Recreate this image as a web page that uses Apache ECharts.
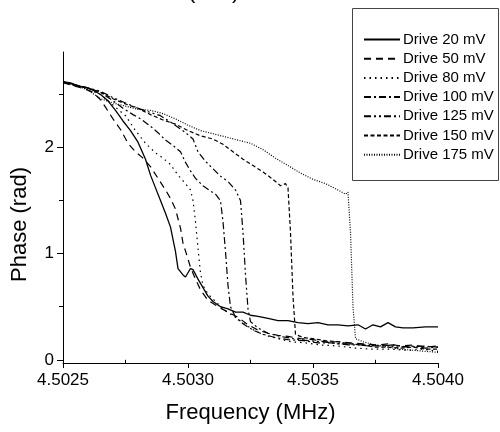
<!DOCTYPE html>
<html><head><meta charset="utf-8">
<script src="https://cdn.jsdelivr.net/npm/echarts@6/dist/echarts.min.js"></script>
<style>html,body{margin:0;padding:0;background:#fff}#c{width:500px;height:432px}</style>
</head><body><div id="c"></div>
<script>
const seriesNames = ['Drive 20 mV','Drive 50 mV','Drive 80 mV','Drive 100 mV','Drive 125 mV','Drive 150 mV','Drive 175 mV'];
const xMajorTicks = [4.5025, 4.5030, 4.5035, 4.5040];
const xMinorTicks = [4.50275, 4.50325, 4.50375];
const yMajorTicks = [0, 1, 2];
const yMinorTicks = [0.5, 1.5, 2.5];

const drive20 = [[4.50250,2.62],[4.50253,2.61],[4.50256,2.58],[4.50259,2.57],[4.50262,2.54],[4.50265,2.50],[4.50268,2.44],[4.50271,2.35],[4.50274,2.25],[4.50277,2.16],[4.50280,2.05],[4.50283,1.89],[4.50285,1.74],[4.50287,1.62],[4.50289,1.50],[4.50291,1.38],[4.50293,1.25],[4.50295,1.02],[4.50296,0.86],[4.50298,0.80],[4.50299,0.78],[4.50301,0.86],[4.50302,0.85],[4.50304,0.76],[4.50306,0.68],[4.50308,0.60],[4.50310,0.55],[4.50313,0.50],[4.50316,0.48],[4.50319,0.45],[4.50322,0.45],[4.50325,0.42],[4.50328,0.41],[4.50332,0.39],[4.50336,0.37],[4.50340,0.37],[4.50344,0.35],[4.50348,0.34],[4.50352,0.35],[4.50356,0.33],[4.50360,0.33],[4.50364,0.32],[4.50368,0.33],[4.50371,0.29],[4.50374,0.33],[4.50377,0.31],[4.50380,0.35],[4.50383,0.31],[4.50386,0.30],[4.50390,0.30],[4.50395,0.31],[4.50400,0.31]];
const drive50 = [[4.50250,2.61],[4.50253,2.59],[4.50256,2.57],[4.50259,2.55],[4.50262,2.52],[4.50265,2.45],[4.50267,2.38],[4.50270,2.27],[4.50273,2.17],[4.50276,2.04],[4.50279,1.96],[4.50282,1.90],[4.50285,1.82],[4.50288,1.71],[4.50291,1.60],[4.50293,1.52],[4.50295,1.42],[4.50297,1.24],[4.50298,1.10],[4.50300,0.95],[4.50301,0.87],[4.50303,0.76],[4.50305,0.66],[4.50308,0.56],[4.50312,0.50],[4.50316,0.45],[4.50320,0.40],[4.50324,0.33],[4.50328,0.28],[4.50332,0.25],[4.50336,0.23],[4.50340,0.22],[4.50345,0.20],[4.50350,0.19],[4.50355,0.17],[4.50360,0.17],[4.50365,0.16],[4.50370,0.15],[4.50375,0.14],[4.50380,0.15],[4.50385,0.13],[4.50390,0.14],[4.50395,0.12],[4.50400,0.13]];
const drive80 = [[4.50250,2.62],[4.50255,2.58],[4.50260,2.55],[4.50265,2.50],[4.50270,2.40],[4.50275,2.30],[4.50279,2.16],[4.50283,2.04],[4.50287,1.95],[4.50290,1.90],[4.50293,1.84],[4.50296,1.74],[4.50299,1.66],[4.50301,1.60],[4.50302,1.50],[4.50303,1.30],[4.50304,1.05],[4.50305,0.82],[4.50306,0.70],[4.50308,0.62],[4.50311,0.55],[4.50315,0.46],[4.50319,0.40],[4.50323,0.33],[4.50327,0.27],[4.50331,0.23],[4.50336,0.20],[4.50341,0.17],[4.50347,0.16],[4.50353,0.14],[4.50360,0.13],[4.50367,0.11],[4.50374,0.10],[4.50381,0.10],[4.50388,0.09],[4.50394,0.10],[4.50400,0.08]];
const drive100 = [[4.50250,2.62],[4.50255,2.58],[4.50260,2.56],[4.50265,2.52],[4.50270,2.44],[4.50274,2.37],[4.50278,2.31],[4.50281,2.27],[4.50285,2.20],[4.50288,2.14],[4.50291,2.07],[4.50294,2.02],[4.50297,1.96],[4.50299,1.86],[4.50301,1.78],[4.50303,1.71],[4.50306,1.64],[4.50309,1.59],[4.50311,1.56],[4.50313,1.50],[4.50314,1.30],[4.50315,1.02],[4.50316,0.70],[4.50317,0.50],[4.50319,0.40],[4.50322,0.34],[4.50326,0.28],[4.50330,0.24],[4.50335,0.21],[4.50340,0.19],[4.50346,0.18],[4.50352,0.16],[4.50358,0.16],[4.50364,0.14],[4.50370,0.14],[4.50376,0.13],[4.50382,0.14],[4.50388,0.12],[4.50394,0.13],[4.50400,0.12]];
const drive125 = [[4.50250,2.61],[4.50255,2.59],[4.50260,2.56],[4.50265,2.53],[4.50270,2.47],[4.50275,2.42],[4.50280,2.37],[4.50285,2.33],[4.50289,2.30],[4.50293,2.24],[4.50296,2.19],[4.50299,2.14],[4.50302,2.08],[4.50304,1.96],[4.50307,1.87],[4.50310,1.80],[4.50313,1.73],[4.50316,1.68],[4.50319,1.60],[4.50321,1.50],[4.50322,1.20],[4.50323,0.80],[4.50324,0.48],[4.50325,0.36],[4.50328,0.30],[4.50332,0.25],[4.50337,0.22],[4.50342,0.20],[4.50348,0.18],[4.50354,0.17],[4.50360,0.15],[4.50366,0.15],[4.50372,0.13],[4.50378,0.14],[4.50384,0.12],[4.50390,0.13],[4.50395,0.11],[4.50400,0.12]];
const drive150 = [[4.50250,2.62],[4.50255,2.59],[4.50260,2.56],[4.50265,2.52],[4.50270,2.46],[4.50275,2.41],[4.50280,2.37],[4.50285,2.31],[4.50290,2.26],[4.50295,2.22],[4.50300,2.16],[4.50305,2.11],[4.50310,2.08],[4.50314,2.03],[4.50318,1.96],[4.50322,1.89],[4.50326,1.83],[4.50330,1.77],[4.50334,1.70],[4.50337,1.64],[4.50339,1.66],[4.50340,1.62],[4.50341,1.20],[4.50342,0.60],[4.50343,0.24],[4.50346,0.21],[4.50350,0.20],[4.50355,0.18],[4.50360,0.17],[4.50365,0.15],[4.50370,0.14],[4.50375,0.12],[4.50380,0.12],[4.50385,0.11],[4.50390,0.12],[4.50395,0.10],[4.50400,0.10]];
const drive175 = [[4.50250,2.62],[4.50255,2.59],[4.50260,2.54],[4.50265,2.46],[4.50270,2.42],[4.50275,2.39],[4.50280,2.36],[4.50285,2.35],[4.50290,2.32],[4.50295,2.27],[4.50300,2.21],[4.50305,2.16],[4.50310,2.13],[4.50315,2.10],[4.50320,2.07],[4.50325,2.04],[4.50330,1.98],[4.50335,1.90],[4.50340,1.83],[4.50345,1.76],[4.50350,1.70],[4.50355,1.66],[4.50360,1.60],[4.50363,1.56],[4.50364,1.58],[4.50365,1.20],[4.50366,0.50],[4.50367,0.20],[4.50370,0.17],[4.50375,0.14],[4.50380,0.12],[4.50385,0.10],[4.50390,0.09],[4.50395,0.08],[4.50400,0.07]];

const allData = [drive20, drive50, drive80, drive100, drive125, drive150, drive175];
const dashTypes = ['solid', [7,5], [1.5,4], [7,3,2,3], [7,3,2,3,2,3], [4,2.5], [1,1.5]];

const FONT = '"Liberation Sans", Arial, sans-serif';
const chart = echarts.init(document.getElementById('c'), null, {renderer: 'canvas'});

const yMin = -0.03, yMax = 2.9;
const xMin = 4.5025, xMax = 4.5040;

const option = {
  backgroundColor: '#fff',
  animation: false,
  grid: {left: 63, right: 62, top: 52, bottom: 69},
  legend: {
    orient: 'vertical', left: 358, top: 27,
    itemWidth: 36, itemHeight: 14, itemGap: 4.2,
    itemStyle: {opacity: 0},
    textStyle: {fontFamily: FONT, fontSize: 15, color: '#000', lineHeight: 14, padding: [0, 0, 0, -2]},
    data: seriesNames
  },
  graphic: [
    {type: 'rect', shape: {x: 352.5, y: 8.5, width: 146, height: 172}, style: {fill: 'none', stroke: '#444', lineWidth: 1}, z: 100},
    {type: 'text', left: 188, top: -19, style: {text: '(a.u.)', font: '22px ' + FONT, fill: '#000'}}
  ],
  xAxis: [{
    type: 'value', min: xMin, max: xMax,
    axisLine: {onZero: false, lineStyle: {color: '#000', width: 1}},
    axisTick: {customValues: xMajorTicks, length: 5, inside: false, lineStyle: {color: '#000'}},
    axisLabel: {customValues: xMajorTicks, formatter: v => v.toFixed(4), fontFamily: FONT, fontSize: 17, color: '#000', margin: 9},
    splitLine: {show: false},
    name: 'Frequency (MHz)', nameLocation: 'middle', nameGap: 39,
    nameTextStyle: {fontFamily: FONT, fontSize: 22, color: '#000'}
  }, {
    type: 'value', min: xMin, max: xMax, position: 'bottom',
    axisLine: {show: false},
    axisTick: {customValues: xMinorTicks, length: 4, lineStyle: {color: '#000'}},
    axisLabel: {show: false}, splitLine: {show: false}
  }],
  yAxis: [{
    type: 'value', min: yMin, max: yMax,
    axisLine: {show: true, onZero: false, lineStyle: {color: '#000', width: 1}},
    axisTick: {show: true, customValues: yMajorTicks, length: 6, lineStyle: {color: '#000'}},
    axisLabel: {customValues: yMajorTicks, fontFamily: FONT, fontSize: 17, color: '#000', margin: 9},
    splitLine: {show: false},
    name: 'Phase (rad)', nameLocation: 'middle', nameGap: 32,
    nameTextStyle: {fontFamily: FONT, fontSize: 22, color: '#000', padding: [0, 34, 0, 0]}
  }, {
    type: 'value', min: yMin, max: yMax, position: 'left',
    axisLine: {show: false},
    axisTick: {show: true, customValues: yMinorTicks, length: 4, lineStyle: {color: '#000'}},
    axisLabel: {show: false}, splitLine: {show: false}
  }],
  series: seriesNames.map((name, i) => ({
    name: name, type: 'line', data: allData[i], xAxisIndex: 0, yAxisIndex: 0,
    symbol: 'none', showSymbol: false,
    lineStyle: {color: '#000', width: i === 0 ? 1.3 : 1.2, type: dashTypes[i]},
    itemStyle: {color: '#000'}
  }))
};
chart.setOption(option);
</script>
</body></html>
